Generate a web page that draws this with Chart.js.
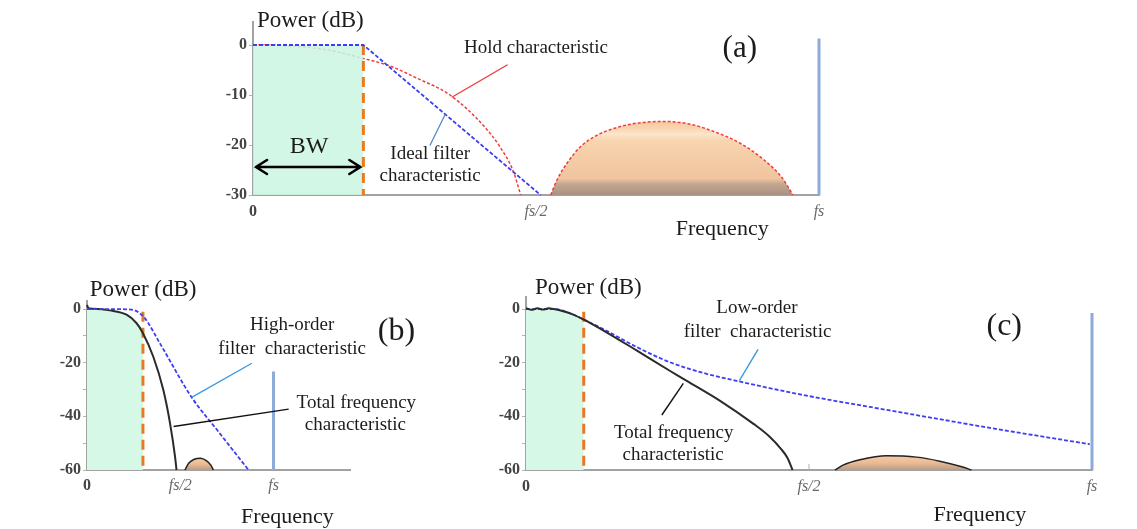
<!DOCTYPE html>
<html><head><meta charset="utf-8">
<script src="https://cdn.jsdelivr.net/npm/chart.js@4.4.1/dist/chart.umd.min.js"></script>
<style>
html,body{margin:0;padding:0;background:#fff;width:1137px;height:529px;overflow:hidden}
.box{position:absolute}
</style></head><body>
<div class="box" style="left:170px;top:0;width:700px;height:245px"><canvas id="chartA"></canvas></div>
<div class="box" style="left:0;top:262px;width:460px;height:267px"><canvas id="chartB"></canvas></div>
<div class="box" style="left:460px;top:262px;width:677px;height:267px"><canvas id="chartC"></canvas></div>
<script>
// shared x tick values (fraction of fs) and labels
const xTicks = [0, 0.5, 1];
const xTickLabels = ['0', 'fs/2', 'fs'];

// panel (a): hold characteristic vs ideal filter
const yTicksA = [0, -10, -20, -30];
const yLabelsA = [0, -10, -20, -30];
const bwA = 0.195;
const idealA = [[0,0],[0.195,0],[0.508,-30]];
const holdA = [[0,0],[0.05,-0.1],[0.1,-0.5],[0.15,-1.4],[0.195,-2.7],[0.242,-4.2],[0.289,-6.6],[0.348,-10],[0.407,-16.1],[0.436,-20.3],[0.46,-25.3],[0.473,-30]];
const imageA = [[0.526,-30],[0.537,-27],[0.555,-23.6],[0.579,-20.3],[0.607,-18.1],[0.637,-16.7],[0.68,-15.6],[0.729,-15.3],[0.775,-15.9],[0.814,-17.3],[0.86,-19.6],[0.903,-23],[0.935,-26.6],[0.954,-30]];
const fsLineA = [[1,1.3],[1,-30]];

// panel (b): high-order filter
const yTicksB = [0, -10, -20, -30, -40, -50, -60];
const yLabelsB = [0, -20, -40, -60];
const bwB = 0.30;
const highOrderB = [[0,0],[0.15,0],[0.212,-0.1],[0.26,-0.6],[0.31,-3.4],[0.391,-12.8],[0.561,-32.9],[0.70,-45.3],[0.866,-60]];
const totalB = [[0,1.5],[0.008,0.3],[0.03,0.1],[0.122,-0.5],[0.212,-2.1],[0.265,-5.2],[0.30,-9],[0.355,-17.7],[0.409,-30.1],[0.445,-42.5],[0.472,-55],[0.48,-60]];
const imageB = [[0.525,-60],[0.545,-57.5],[0.575,-56],[0.608,-55.6],[0.64,-56.5],[0.665,-58.3],[0.677,-60]];
const fsLineB = [[1,-23.3],[1,-60]];

// panel (c): low-order filter
const yTicksC = [0, -10, -20, -30, -40, -50, -60];
const yLabelsC = [0, -20, -40, -60];
const bwC = 0.102;
const lowOrderC = [[0,0],[0.049,0],[0.078,-1.6],[0.102,-3.9],[0.137,-7.5],[0.196,-14.2],[0.254,-19.8],[0.313,-23.8],[0.377,-27],[0.484,-31.8],[0.643,-37.8],[0.82,-44.3],[0.996,-50.4]];
const totalC = [[0,0.3],[0.01,-0.3],[0.02,0.3],[0.03,-0.2],[0.04,0.3],[0.049,0],[0.078,-1.6],[0.102,-3.9],[0.137,-8],[0.196,-15.5],[0.254,-23],[0.278,-26],[0.343,-34.2],[0.402,-42.8],[0.43,-47.5],[0.45,-52],[0.462,-55.5],[0.471,-60]];
const imageC = [[0.546,-60],[0.56,-58.2],[0.59,-56.2],[0.637,-54.7],[0.69,-55.2],[0.731,-56.7],[0.77,-58.8],[0.787,-60]];
const fsLineC = [[1,-1.5],[1,-60]];

const serif = '"Liberation Serif", "Times New Roman", serif';
const axisGray = '#a2a2a2';
const blue = '#3d3df2', red = '#f03c3c', orange = '#ea7a22', fsBlue = '#8dabd9', ink = '#1c1c1c';

const pts = a => a.map(([x,y]) => ({x, y}));
const line = (a, color, o={}) => Object.assign({
  data: pts(a), borderColor: color, borderWidth: 2, pointRadius: 0, fill: false,
  cubicInterpolationMode: 'monotone', clip: false
}, o);
const straight = (a, color, o={}) => line(a, color, Object.assign({cubicInterpolationMode: 'default', tension: 0}, o));
const vline = (x, top, bottom) => [[x, top], [x, bottom]];

const lobeFill = (top, bottom, stops) => c => {
  const ch = c.chart;
  if(!ch.chartArea || !ch.scales.y) return stops[0][1];
  const y = ch.scales.y;
  const g = ch.ctx.createLinearGradient(0, y.getPixelForValue(top), 0, y.getPixelForValue(bottom));
  stops.forEach(([o, col]) => g.addColorStop(o, col));
  return g;
};

// text, leader lines, BW arrow and inner x tick, placed in data units
const notes = items => ({
  id: 'notes',
  afterDraw(chart){
    const {ctx, scales:{x, y}} = chart;
    const px = v => x.getPixelForValue(v), py = v => y.getPixelForValue(v);
    ctx.save();
    items.forEach(n => {
      if(n.text){
        ctx.font = `${n.italic ? 'italic ' : ''}${n.size || 19}px ${serif}`;
        ctx.fillStyle = n.color || ink;
        ctx.textAlign = n.align || 'center';
        ctx.textBaseline = 'middle';
        ctx.fillText(n.text, px(n.x), py(n.y));
      } else if(n.lead){
        ctx.strokeStyle = n.color; ctx.lineWidth = n.width || 1.4;
        ctx.beginPath(); ctx.moveTo(px(n.lead[0]), py(n.lead[1])); ctx.lineTo(px(n.lead[2]), py(n.lead[3])); ctx.stroke();
      } else if(n.arrow){
        const [x1, x2, yy] = n.arrow, a = px(x1) + 3, b = px(x2) - 3, v = py(yy);
        ctx.strokeStyle = '#000'; ctx.lineWidth = 2.6; ctx.lineCap = 'round';
        ctx.beginPath(); ctx.moveTo(a, v); ctx.lineTo(b, v);
        ctx.moveTo(a + 11, v - 7); ctx.lineTo(a, v); ctx.lineTo(a + 11, v + 7);
        ctx.moveTo(b - 11, v - 7); ctx.lineTo(b, v); ctx.lineTo(b - 11, v + 7);
        ctx.stroke();
      } else if(n.xminor){
        ctx.strokeStyle = '#b0b0b0'; ctx.lineWidth = 1;
        n.xminor.forEach(t => { ctx.beginPath(); ctx.moveTo(px(t), y.bottom); ctx.lineTo(px(t), y.bottom - 6); ctx.stroke(); });
      }
    });
    ctx.restore();
  }
});

const makeChart = (id, cfg) => new Chart(document.getElementById(id), {
  type: 'line',
  data: { datasets: cfg.datasets },
  options: {
    responsive: true, maintainAspectRatio: false, animation: false, events: [],
    layout: { padding: { top: cfg.padTop, right: cfg.padRight, left: 0, bottom: 0 } },
    plugins: { legend: {display: false}, tooltip: {enabled: false} },
    scales: {
      x: {
        type: 'linear', min: 0, max: cfg.xMax,
        border: {color: axisGray, width: 2},
        grid: {display: false, drawTicks: false},
        ticks: {
          padding: cfg.xPad, autoSkip: false, maxRotation: 0,
          callback: v => xTickLabels[xTicks.indexOf(v)],
          font: c => c.tick && c.tick.value > 0
            ? {family: serif, size: 16, style: 'italic'}
            : {family: serif, size: 16, weight: 'bold'},
          color: c => c.tick && c.tick.value > 0 ? '#6a6a6a' : '#444'
        },
        afterBuildTicks: s => { s.ticks = xTicks.map(v => ({value: v})); },
        afterFit: s => { s.height = cfg.xH; }
      },
      y: {
        type: 'linear', min: cfg.yMin, max: cfg.yMax,
        border: {color: axisGray, width: 2},
        grid: {display: true, drawOnChartArea: false, drawTicks: true, tickLength: 4, color: '#b4b4b4', lineWidth: 1},
        ticks: {
          padding: 2, autoSkip: false, color: '#444', font: {family: serif, size: 16, weight: 'bold'},
          callback: v => cfg.yLabels.includes(v) ? String(v) : ''
        },
        afterBuildTicks: s => { s.ticks = cfg.yTicks.map(v => ({value: v})); },
        afterFit: s => { s.width = cfg.yW; }
      }
    }
  },
  plugins: [notes(cfg.notes)]
});

const peachA = [[0,'#f5c79c'],[0.1,'#f9d6b2'],[0.17,'#fce6cc'],[0.26,'#f8d4af'],[0.78,'#f0c49e'],[0.85,'#c4a791'],[1,'#a99183']];
const peachBC = [[0,'#f4cba5'],[0.5,'#ebbb93'],[1,'#b89c88']];

makeChart('chartA', {
  xMax: 1, yMin: -30, yMax: 4.6, yTicks: yTicksA, yLabels: yLabelsA,
  padTop: 22, padRight: 51, yW: 83, xH: 50, xPad: 7,
  datasets: [
    straight(idealA, blue, {borderWidth: 1.8, borderDash: [4, 2], order: 0}),
    straight(vline(bwA, 0, -30), orange, {borderWidth: 3, borderDash: [10, 6], order: 1}),
    straight([[0,0],[bwA,0]], 'transparent', {borderWidth: 0, fill: 'start', backgroundColor: 'rgba(204,246,226,0.86)', order: 2}),
    line(holdA, red, {borderWidth: 1.5, borderDash: [3, 2], order: 3}),
    line(imageA, red, {borderWidth: 1.5, borderDash: [3, 2], fill: 'start', backgroundColor: lobeFill(-15.3, -30, peachA), order: 4}),
    straight(fsLineA, fsBlue, {borderWidth: 3, order: 5})
  ],
  notes: [
    {text: 'Power (dB)', x: 0.007, y: 4.8, size: 23, align: 'left'},
    {text: 'Hold characteristic', x: 0.5, y: -0.6},
    {text: 'Ideal filter', x: 0.313, y: -21.8},
    {text: 'characteristic', x: 0.313, y: -26.2},
    {text: 'BW', x: 0.099, y: -20.4, size: 24},
    {text: '(a)', x: 0.86, y: -0.8, size: 31},
    {text: 'Frequency', x: 0.829, y: -36.8, size: 22},
    {arrow: [0, bwA, -24.4]},
    {lead: [0.449, -4, 0.352, -10.4], color: red},
    {lead: [0.339, -14, 0.313, -20], color: '#5f8fcc'}
  ]
});

makeChart('chartB', {
  xMax: 1.41, yMin: -60, yMax: 3, yTicks: yTicksB, yLabels: yLabelsB,
  padTop: 39, padRight: 110, yW: 87, xH: 59, xPad: 6,
  datasets: [
    line(highOrderB, blue, {borderWidth: 1.8, borderDash: [4, 2], order: 0}),
    line(totalB, '#2b2b2b', {order: 1}),
    straight(vline(bwB, -1, -60), orange, {borderWidth: 3, borderDash: [10, 6], order: 2}),
    line(imageB, '#222', {borderWidth: 1.5, fill: 'start', backgroundColor: lobeFill(-55.6, -60, peachBC), order: 3}),
    line(totalB.filter(p => p[0] <= bwB), 'transparent', {borderWidth: 0, fill: 'start', backgroundColor: '#d5f8e7', order: 4}),
    straight(fsLineB, fsBlue, {borderWidth: 3, order: 5})
  ],
  notes: [
    {text: 'Power (dB)', x: 0.015, y: 7.2, size: 23, align: 'left'},
    {text: 'High-order', x: 1.1, y: -5.9},
    {text: 'filter  characteristic', x: 1.1, y: -14.8},
    {text: 'Total frequency', x: 1.444, y: -35},
    {text: 'characteristic', x: 1.439, y: -43.2},
    {text: '(b)', x: 1.659, y: -8.5, size: 32},
    {text: 'Frequency', x: 1.074, y: -77.6, size: 22},
    {lead: [0.884, -20.2, 0.561, -32.9], color: '#3a9ae4'},
    {lead: [1.081, -37.3, 0.464, -43.8], color: '#111'}
  ]
});

makeChart('chartC', {
  xMax: 1, yMin: -60, yMax: 4.5, yTicks: yTicksC, yLabels: yLabelsC,
  padTop: 35, padRight: 45, yW: 66, xH: 59, xPad: 7,
  datasets: [
    line(totalC, '#2b2b2b', {order: 0}),
    line(lowOrderC, blue, {borderWidth: 1.8, borderDash: [4, 2], order: 1}),
    straight(vline(bwC, -1, -60), orange, {borderWidth: 3, borderDash: [10, 6], order: 2}),
    line(imageC, '#222', {borderWidth: 1.5, fill: 'start', backgroundColor: lobeFill(-54.7, -60, peachBC), order: 3}),
    line(totalC.filter(p => p[0] <= bwC), 'transparent', {borderWidth: 0, fill: 'start', backgroundColor: '#d5f8e7', order: 4}),
    straight(fsLineC, fsBlue, {borderWidth: 3, order: 5})
  ],
  notes: [
    {xminor: [0.5]},
    {text: 'Power (dB)', x: 0.016, y: 7.8, size: 23, align: 'left'},
    {text: 'Low-order', x: 0.408, y: 0.4},
    {text: 'filter  characteristic', x: 0.409, y: -8.5},
    {text: 'Total frequency', x: 0.261, y: -46.2},
    {text: 'characteristic', x: 0.26, y: -54.4},
    {text: '(c)', x: 0.845, y: -6.7, size: 32},
    {text: 'Frequency', x: 0.802, y: -76.8, size: 22},
    {lead: [0.41, -15.0, 0.377, -26.7], color: '#3a9ae4'},
    {lead: [0.24, -39.5, 0.278, -27.7], color: '#111'}
  ]
});
</script>
</body></html>
